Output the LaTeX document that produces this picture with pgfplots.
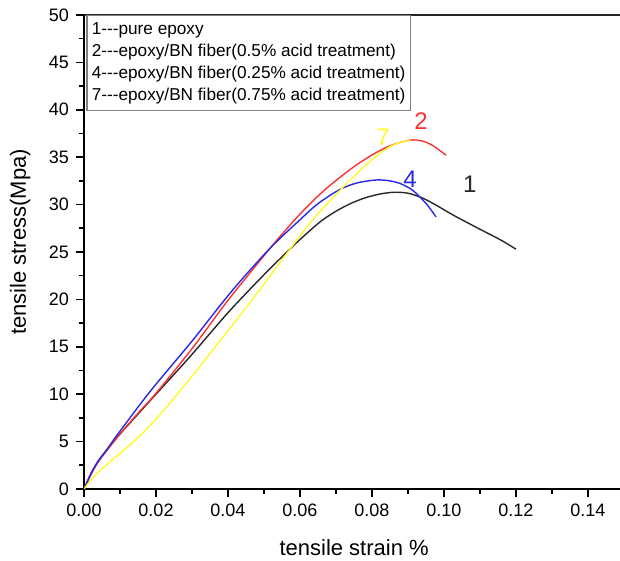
\documentclass[border=0pt]{standalone}
\usepackage{fontspec}
\setmainfont{Liberation Sans}
\usepackage{pgfplots}
\pgfplotsset{compat=1.18}
\definecolor{cblack}{RGB}{40,40,40}
\definecolor{cred}{RGB}{250,50,50}
\definecolor{cblue}{RGB}{40,40,230}
\definecolor{cyellow}{RGB}{255,250,40}
\begin{document}
\begin{tikzpicture}
\begin{axis}[
    scale only axis,
    width=268pt, height=237pt,
    xmin=0, xmax=0.1489, ymin=0, ymax=50,
    axis x line*=bottom, axis y line*=left,
    axis line style={line width=1pt, -},
    xtick={0,0.02,0.04,0.06,0.08,0.1,0.12,0.14},
    ytick={0,5,...,50},
    minor x tick num=1, minor y tick num=1,
    tick align=outside,
    major tick length=4pt, minor tick length=2.5pt,
    every tick/.style={line width=0.8pt, black},
    xticklabel style={/pgf/number format/.cd, fixed, fixed zerofill, precision=2},
    /pgf/number format/assume math mode=true,
    tick label style={font=\fontsize{9}{10}\selectfont},
    xlabel={tensile strain \%},
    ylabel={tensile stress(Mpa)},
    every axis x label/.style={at={(axis description cs:0.504,-0.124)}, anchor=center, font=\fontsize{11}{12}\selectfont},
    every axis y label/.style={at={(axis description cs:-0.119,0.521)}, anchor=center, rotate=90, font=\fontsize{11}{12}\selectfont},
    legend image code/.code={},
    legend cell align=left,
    legend style={at={(0.004,1)}, anchor=north west, draw=gray, line width=0.7pt,
        inner xsep=0pt, inner ysep=1.75pt,
        font=\fontsize{8.6}{10}\selectfont,
        nodes={inner xsep=2.5pt, inner ysep=1.5pt, text height=6.4pt, text depth=1.6pt}},
    every axis plot/.append style={line width=0.7pt},
]
% 1 pure epoxy
\addplot[cblack, smooth] coordinates {
    (0,0) (0.002,1.6) (0.004,2.9) (0.007,4.4) (0.01,5.8) (0.015,7.9) (0.02,10.0)
    (0.03,14.2) (0.04,18.6) (0.05,22.6) (0.058,25.6) (0.062,27.0) (0.066,28.3)
    (0.07,29.3) (0.074,30.1) (0.078,30.7) (0.082,31.1) (0.086,31.3) (0.09,31.2)
    (0.094,30.7) (0.098,29.9) (0.103,28.8) (0.11,27.4) (0.1156,26.3) (0.12,25.3)
};
\addlegendentry{1{-}{-}{-}pure epoxy}
% 2 0.5% acid
\addplot[cred, smooth] coordinates {
    (0,0) (0.002,1.6) (0.004,2.9) (0.007,4.4) (0.01,5.8) (0.015,8.0) (0.02,10.1)
    (0.03,14.8) (0.04,19.9) (0.0517,25.4) (0.056,27.3) (0.06,29.0) (0.065,30.9)
    (0.0692,32.3) (0.075,34.0) (0.0803,35.3) (0.085,36.2) (0.0906,36.8)
    (0.094,36.7) (0.097,36.2) (0.1006,35.2)
};
\addlegendentry{2{-}{-}{-}epoxy/BN fiber(0.5\% acid treatment)}
% 4 0.25% acid
\addplot[cblue, smooth] coordinates {
    (0,0) (0.002,1.7) (0.004,3.0) (0.0064,4.2) (0.01,6.1) (0.0186,10.4) (0.03,15.6)
    (0.0411,20.9) (0.0517,25.4) (0.06,28.4) (0.065,30.1) (0.0711,31.6) (0.076,32.3)
    (0.0814,32.6) (0.085,32.5) (0.088,32.2) (0.091,31.6) (0.0933,30.8)
    (0.0955,29.9) (0.0978,28.7)
};
\addlegendentry{4{-}{-}{-}epoxy/BN fiber(0.25\% acid treatment)}
% 7 0.75% acid
\addplot[cyellow, smooth] coordinates {
    (0,0) (0.003,1.4) (0.007,2.8) (0.012,4.4) (0.016,5.8) (0.021,7.8) (0.03,11.9)
    (0.04,16.7) (0.05,21.6) (0.058,25.7) (0.064,28.6) (0.0711,31.5) (0.077,33.7)
    (0.0822,35.4) (0.086,36.3) (0.0906,36.8)
};
\addlegendentry{7{-}{-}{-}epoxy/BN fiber(0.75\% acid treatment)}
\draw[line width=1pt, black!85] (rel axis cs:0,1) -- (rel axis cs:1,1);
\node[cyellow, font=\fontsize{12}{12}\selectfont] at (axis cs:0.0831,37.1) {7};
\node[cred, font=\fontsize{12}{12}\selectfont] at (axis cs:0.0936,38.8) {2};
\node[cblue, font=\fontsize{12}{12}\selectfont] at (axis cs:0.0906,32.7) {4};
\node[cblack, font=\fontsize{12}{12}\selectfont] at (axis cs:0.1072,32.1) {1};
\end{axis}
\pgfresetboundingbox
\path[use as bounding box] (-42pt,-36pt) rectangle (268pt,244.5pt);
\end{tikzpicture}
\end{document}
